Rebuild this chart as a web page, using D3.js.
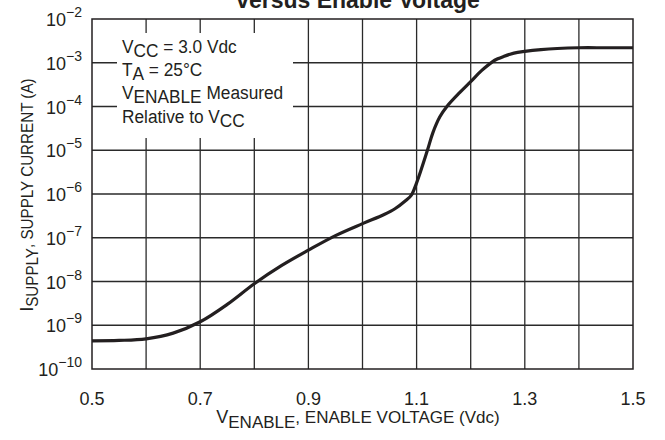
<!DOCTYPE html>
<html><head><meta charset="utf-8">
<script src="https://cdn.jsdelivr.net/npm/d3@7"></script>
<style>
html,body{margin:0;padding:0;background:#fff;}
text{font-family:"Liberation Sans",Arial,sans-serif;fill:#231f20;}
</style></head>
<body>
<svg id="c" width="665" height="440"></svg>
<script>
const voltage = [0.50,0.55,0.60,0.65,0.70,0.75,0.80,0.85,0.90,0.95,1.00,1.04,1.06,1.08,1.09,1.10,1.12,1.13,1.143,1.156,1.18,1.20,1.22,1.24,1.25,1.26,1.28,1.30,1.33,1.36,1.40,1.45,1.50];
const current = [4.4e-10,4.5e-10,4.9e-10,6.6e-10,1.2e-9,3.0e-9,8.9e-9,2.3e-8,5.2e-8,1.12e-7,2.1e-7,3.4e-7,4.6e-7,7.1e-7,9.3e-7,1.8e-6,1.0e-5,2.5e-5,5.8e-5,1.0e-4,2.1e-4,3.7e-4,6.6e-4,1.05e-3,1.23e-3,1.38e-3,1.66e-3,1.82e-3,2.0e-3,2.12e-3,2.2e-3,2.2e-3,2.2e-3];
const xTickLabels = ["0.5","0.7","0.9","1.1","1.3","1.5"];
const xTicks = [0.5,0.7,0.9,1.1,1.3,1.5];
const xGrid = [0.6,0.7,0.8,0.9,1.0,1.1,1.2,1.3,1.4];
const yExponents = [-2,-3,-4,-5,-6,-7,-8,-9,-10];
const insetLines = [
  [["V",""],["CC","sub"],[" = 3.0 Vdc",""]],
  [["T",""],["A","sub"],[" = 25°C",""]],
  [["V",""],["ENABLE","sub"],[" Measured",""]],
  [["Relative to V",""],["CC","sub"]]
];

const svg = d3.select("#c");
const m = {l:92, t:19, w:541, h:350};
const x = d3.scaleLinear().domain([0.5,1.5]).range([m.l, m.l+m.w]);
const y = d3.scaleLog().domain([1e-10,1e-2]).range([m.t+m.h, m.t]);

// title (partially cut off at the top, as in the reference)
svg.append("text").attr("x",358).attr("y",8).attr("text-anchor","middle")
  .attr("font-weight","bold").attr("font-size",23)
  .text("versus Enable Voltage");

const g = svg.append("g");
g.selectAll(".vg").data(xGrid).join("line")
  .attr("x1",d=>x(d)).attr("x2",d=>x(d)).attr("y1",m.t).attr("y2",m.t+m.h)
  .attr("stroke","#2a2a2a").attr("stroke-width",1.3);
g.selectAll(".hg").data(yExponents.slice(1,-1)).join("line")
  .attr("x1",m.l).attr("x2",m.l+m.w).attr("y1",d=>y(Math.pow(10,d))).attr("y2",d=>y(Math.pow(10,d)))
  .attr("stroke","#2a2a2a").attr("stroke-width",1.3);
g.append("rect").attr("x",m.l).attr("y",m.t).attr("width",m.w).attr("height",m.h)
  .attr("fill","none").attr("stroke","#231f20").attr("stroke-width",1.5);

// inset box
g.append("rect").attr("x",117).attr("y",33).attr("width",176).attr("height",105).attr("fill","#fff");
const baselines = [53,76,99,123];
insetLines.forEach((line,i)=>{
  const t = g.append("text").attr("x",122).attr("y",baselines[i]).attr("font-size",18)
    .attr("transform",`translate(122,0) scale(0.96,1) translate(-122,0)`);
  line.forEach(([s,k],j)=>{
    const ts = t.append("tspan").text(s);
    if(k==="sub") ts.attr("dy",4);
    else if(j>0 && line[j-1][1]==="sub") ts.attr("dy",-4);
  });
});

// curve
const line = d3.line().x((d,i)=>x(voltage[i])).y((d,i)=>y(current[i])).curve(d3.curveCatmullRom.alpha(0.5));
g.append("path").datum(current).attr("d",line).attr("fill","none")
  .attr("stroke","#231f20").attr("stroke-width",3.2).attr("stroke-linejoin","round");

// y tick labels
yExponents.forEach(e=>{
  const t = svg.append("text").attr("x",82).attr("y",y(Math.pow(10,e))+7).attr("text-anchor","end").attr("font-size",18);
  t.append("tspan").text("10");
  t.append("tspan").attr("font-size",14).attr("dy",-9).text("−"+Math.abs(e));
});
// x tick labels
svg.selectAll(".xt").data(xTicks).join("text")
  .attr("x",d=>x(d)).attr("y",405).attr("text-anchor","middle").attr("font-size",18)
  .text((d,i)=>xTickLabels[i]);

// x axis title
const xt = svg.append("text").attr("x",358).attr("y",423).attr("text-anchor","middle").attr("font-size",18);
xt.append("tspan").text("V");
xt.append("tspan").attr("font-size",17).attr("dy",5).text("ENABLE");
xt.append("tspan").attr("dy",-5).attr("font-size",17).text(", ENABLE VOLTAGE (Vdc)");

// y axis title
const yt = svg.append("text").attr("transform","translate(33,195) rotate(-90) scale(0.95,1)").attr("text-anchor","middle").attr("font-size",18);
yt.append("tspan").text("I");
yt.append("tspan").attr("font-size",16).attr("dy",5).text("SUPPLY");
yt.append("tspan").attr("dy",-5).attr("font-size",16).text(", SUPPLY CURRENT (A)");
</script>
</body></html>
